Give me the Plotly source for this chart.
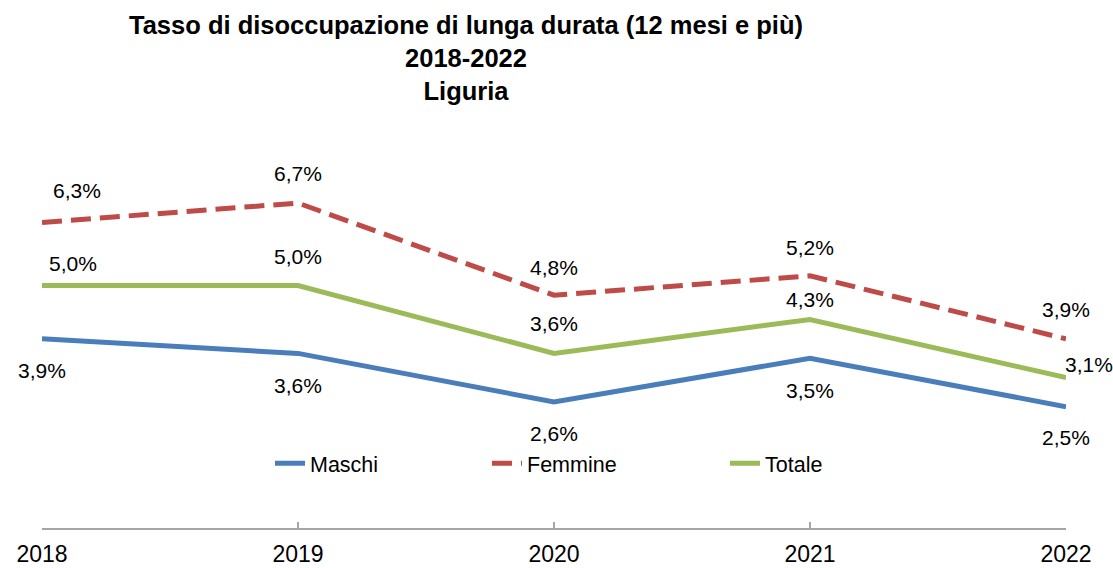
import plotly.graph_objects as go

years = [2018, 2019, 2020, 2021, 2022]
maschi = [3.9, 3.6, 2.6, 3.5, 2.5]
femmine = [6.3, 6.7, 4.8, 5.2, 3.9]
totale = [5.0, 5.0, 3.6, 4.3, 3.1]
tick_labels = ["2018", "2019", "2020", "2021", "2022"]
title_lines = ["Tasso di disoccupazione di lunga durata (12 mesi e più)", "2018-2022", "Liguria"]

series = [
    ("Maschi", maschi, "#4a7ebb", "solid", "legend"),
    ("Femmine", femmine, "#be4b48", "20px,9px", "legend2"),
    ("Totale", totale, "#9bbb59", "solid", "legend3"),
]

# label offsets (pixels) per series / point
label_dx = {
    "Maschi": [0, 0, 0, 0, 0],
    "Femmine": [35, 0, 0, 0, 0],
    "Totale": [31, 0, 0, 0, 23],
}
label_dy = {
    "Maschi": [-32, -32, -32, -32, -31],
    "Femmine": [32, 30, 28, 28, 29],
    "Totale": [22, 29, 30, 20, 13],
}

FONT = "Liberation Sans, Arial, sans-serif"
PLOT_LEFT, PLOT_RIGHT = 42, 1066
PLOT_TOP, PLOT_BOTTOM = 140, 528
W = PLOT_RIGHT - PLOT_LEFT

fig = go.Figure()
for name, vals, color, dash, leg in series:
    fig.add_trace(go.Scatter(
        x=years, y=vals, mode="lines", name=name, legend=leg,
        line=dict(color=color, width=5, dash=dash),
        cliponaxis=False,
    ))

annotations = []
for name, vals, color, dash, leg in series:
    for i, (x, v) in enumerate(zip(years, vals)):
        annotations.append(dict(
            x=x, y=v, xref="x", yref="y",
            text=f"{v:.1f}%".replace(".", ","),
            showarrow=False,
            xshift=label_dx[name][i], yshift=label_dy[name][i],
            font=dict(family=FONT, size=21, color="#000000"),
            xanchor="center", yanchor="middle",
        ))

annotations.append(dict(
    x=(466 - PLOT_LEFT) / W, xref="paper",
    y=(PLOT_BOTTOM - 57.5) / (PLOT_BOTTOM - PLOT_TOP), yref="paper",
    text="<b>" + "<br>".join(title_lines) + "</b>", showarrow=False,
    xanchor="center", yanchor="middle", align="center",
    font=dict(family=FONT, size=25.5, color="#000000"),
))

legend_y = 0.167
def leg(text_left_px):
    return dict(
        orientation="h", x=(text_left_px - 40 - PLOT_LEFT) / W, xanchor="left",
        y=legend_y, yanchor="middle",
        font=dict(family=FONT, size=21.5, color="#000000"),
        bgcolor="rgba(0,0,0,0)",
    )

fig.update_layout(
    width=1113, height=568,
    margin=dict(l=PLOT_LEFT, r=1113 - PLOT_RIGHT, t=PLOT_TOP, b=568 - PLOT_BOTTOM),
    paper_bgcolor="white", plot_bgcolor="white",
    showlegend=True,
    legend=leg(310), legend2=leg(527), legend3=leg(765),
    annotations=annotations,
    xaxis=dict(
        range=[2018, 2022], tickmode="array", tickvals=years, ticktext=tick_labels,
        showgrid=False, zeroline=False, automargin=False,
        showline=True, linecolor="#a6a6a6", linewidth=1.5,
        ticks="inside", ticklen=6, tickcolor="#a6a6a6", tickwidth=1.5,
        ticklabelstandoff=5,
        tickfont=dict(family=FONT, size=23, color="#000000"),
    ),
    yaxis=dict(range=[0, 8], visible=False, showgrid=False, zeroline=False, automargin=False),
)

fig.write_html("out.html", config={"displayModeBar": False},
               post_script="document.body.style.margin='0';")
